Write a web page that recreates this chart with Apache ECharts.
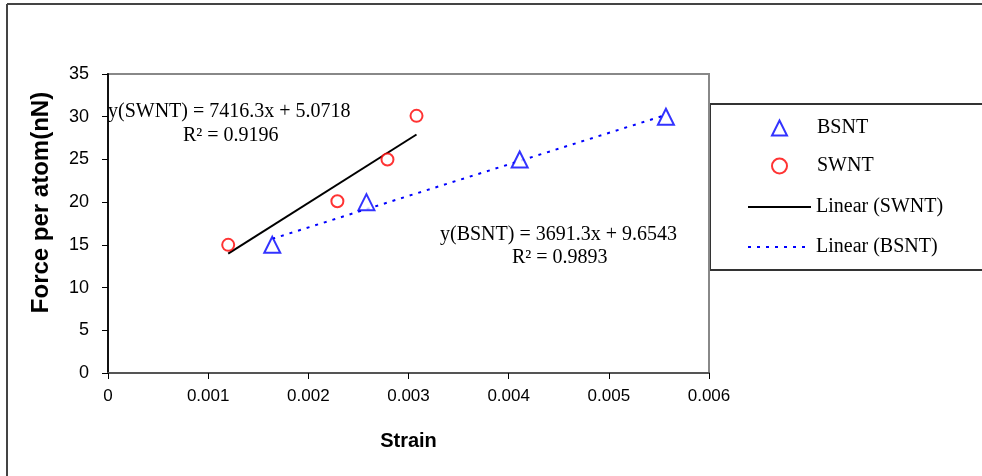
<!DOCTYPE html>
<html><head><meta charset="utf-8">
<script src="https://cdn.jsdelivr.net/npm/echarts@6/dist/echarts.min.js"></script>
<style>html,body{margin:0;padding:0;background:#fff}#c{width:982px;height:476px}</style>
</head><body><div id="c"></div>
<script>
const seriesNames = ['BSNT', 'SWNT', 'Linear (SWNT)', 'Linear (BSNT)'];
const bsntData = [[0.00164, 15], [0.00258, 20], [0.00411, 25], [0.00557, 30]];
const swntData = [[0.0012, 15], [0.00229, 20.1], [0.00279, 25], [0.00308, 30.1]];
const swntFit = [[0.0012, 13.97], [0.00308, 27.92]];
const bsntFit = [[0.00164, 15.71], [0.00557, 30.21]];
const eqSWNT = ['y(SWNT) = 7416.3x + 5.0718', 'R² = 0.9196'];
const eqBSNT = ['y(BSNT) = 3691.3x + 9.6543', 'R² = 0.9893'];
const xName = 'Strain';
const yName = 'Force per atom(nN)';

const serif = '"Liberation Serif", "Times New Roman", serif';
const sans = '"Liberation Sans", Arial, sans-serif';
const chart = echarts.init(document.getElementById('c'));

function legMarker(name, top) {
  return {
    data: [name], left: 771, top: top, orient: 'vertical',
    itemWidth: 15, itemHeight: 15, padding: 0, selectedMode: false,
    textStyle: { fontFamily: serif, fontSize: 20, color: '#000', padding: [0, 0, 0, 25] }
  };
}
function legLine(name, top) {
  return {
    data: [name], left: 747, top: top, orient: 'vertical',
    itemWidth: 63, itemHeight: 2, padding: 0, selectedMode: false,
    itemStyle: { opacity: 0 },
    textStyle: { fontFamily: serif, fontSize: 20, color: '#000' }
  };
}
function txt(s, x, y) {
  return { type: 'text', left: x, top: y, z: 100,
    style: { text: s, font: '20px ' + serif, fill: '#000' } };
}

chart.setOption({
  animation: false,
  backgroundColor: '#fff',
  grid: { left: 108, top: 74, width: 601, height: 299, show: true, borderColor: '#888', borderWidth: 2, backgroundColor: 'transparent' },
  xAxis: {
    type: 'value', min: 0, max: 0.006, interval: 0.001,
    name: xName, nameLocation: 'middle', nameGap: 58,
    nameTextStyle: { fontFamily: sans, fontSize: 20, fontWeight: 'bold', color: '#000' },
    axisLine: { lineStyle: { color: '#555', width: 2 } },
    axisTick: { length: 6, lineStyle: { color: '#000', width: 1 } },
    axisLabel: { margin: 15, fontFamily: sans, fontSize: 17, color: '#000',
      formatter: v => v === 0 ? '0' : v.toFixed(3) },
    splitLine: { show: false }
  },
  yAxis: {
    type: 'value', min: 0, max: 35, interval: 5,
    name: yName, nameLocation: 'middle', nameGap: 55,
    nameTextStyle: { fontFamily: sans, fontSize: 24, fontWeight: 'bold', color: '#000', padding: [0, 0, 0, 42] },
    axisLine: { show: true, lineStyle: { color: '#111', width: 2 } },
    axisTick: { show: true, length: 6, lineStyle: { color: '#000', width: 1 } },
    axisLabel: { margin: 19, fontFamily: sans, fontSize: 18, color: '#000' },
    splitLine: { show: false }
  },
  legend: [
    legMarker(seriesNames[0], 118),
    legMarker(seriesNames[1], 156),
    legLine(seriesNames[2], 197),
    legLine(seriesNames[3], 237)
  ],
  graphic: [
    { type: 'line', shape: { x1: 7, y1: 4, x2: 982, y2: 4 }, style: { stroke: '#444', lineWidth: 2 } },
    { type: 'line', shape: { x1: 7, y1: 4, x2: 7, y2: 476 }, style: { stroke: '#444', lineWidth: 2 } },
    { type: 'rect', shape: { x: 710, y: 104, width: 290, height: 166 }, style: { fill: '#fff', stroke: '#333', lineWidth: 2 }, z: -1 },
    txt(eqSWNT[0], 108, 102),
    txt(eqSWNT[1], 183, 126),
    txt(eqBSNT[0], 440, 225),
    txt(eqBSNT[1], 512, 248)
  ],
  series: [
    { name: seriesNames[0], type: 'scatter', data: bsntData, symbol: 'triangle', symbolSize: 16, z: 5,
      itemStyle: { color: '#fff', borderColor: '#0000ff', borderWidth: 2 } },
    { name: seriesNames[1], type: 'scatter', data: swntData, symbol: 'circle', symbolSize: 12, z: 5,
      itemStyle: { color: '#fff', borderColor: '#ff0000', borderWidth: 2 } },
    { name: seriesNames[2], type: 'line', data: swntFit, symbol: 'none', z: 3,
      lineStyle: { color: '#000', width: 2 }, itemStyle: { color: '#000' } },
    { name: seriesNames[3], type: 'line', data: bsntFit, symbol: 'none', z: 3,
      lineStyle: { color: '#0000ff', width: 2, type: [3, 6] }, itemStyle: { color: '#0000ff' } }
  ]
});
</script></body></html>
